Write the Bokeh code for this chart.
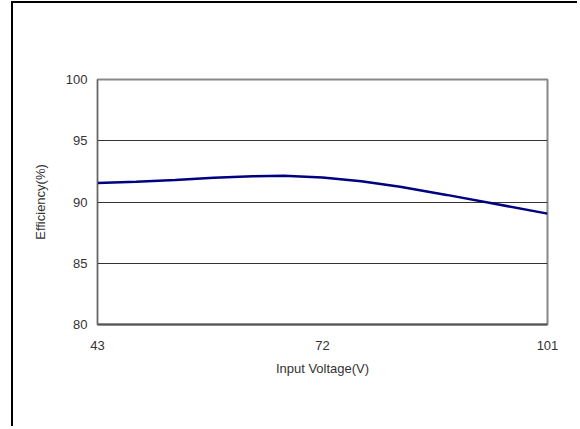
from bokeh.plotting import figure
from bokeh.models import FixedTicker, Range1d
from bokeh.embed import file_html
from bokeh.resources import INLINE

# Data
voltage = [43, 48, 53, 58, 63, 67, 72, 77, 82, 88, 94, 101]
efficiency = [91.55, 91.65, 91.8, 91.98, 92.1, 92.15, 92.0, 91.7, 91.25, 90.58, 89.88, 89.05]
x_ticks = [43, 72, 101]
y_ticks = [80, 85, 90, 95, 100]

FONT = "Liberation Sans"
TXT = "#333333"

p = figure(width=566, height=425, output_backend="svg", toolbar_location=None,
           x_range=Range1d(43, 101), y_range=Range1d(80, 100),
           min_border_left=84, min_border_right=32, min_border_top=76, min_border_bottom=104)
p.styles = {"position": "relative", "top": "1px", "left": "11px",
            "border-left": "2px solid black", "border-top": "2px solid black"}

p.line(voltage, efficiency, line_color="#000080", line_width=2.5)

p.background_fill_color = "white"
p.border_fill_color = "white"
p.outline_line_color = "#888888"
p.outline_line_width = 2

p.xgrid.grid_line_color = None
p.ygrid.grid_line_color = "#333333"
p.ygrid.grid_line_width = 1

p.xaxis.ticker = FixedTicker(ticks=x_ticks)
p.yaxis.ticker = FixedTicker(ticks=y_ticks)
for ax in (p.xaxis, p.yaxis):
    ax.major_tick_out = 0
    ax.major_tick_in = 0
    ax.minor_tick_out = 0
    ax.minor_tick_in = 0
    ax.major_label_text_font = FONT
    ax.major_label_text_font_size = "13px"
    ax.major_label_text_color = TXT
    ax.axis_label_text_font = FONT
    ax.axis_label_text_font_size = "13px"
    ax.axis_label_text_font_style = "normal"
    ax.axis_label_text_color = TXT

p.xaxis.axis_line_color = "#555555"
p.xaxis.axis_line_width = 2
p.yaxis.axis_line_color = "#666666"
p.yaxis.axis_line_width = 1

p.xaxis.axis_label = "Input Voltage(V)"
p.yaxis.axis_label = "Efficiency(%)"
p.xaxis.major_label_standoff = 16
p.xaxis.axis_label_standoff = 8
p.yaxis.major_label_standoff = 10
p.yaxis.axis_label_standoff = 15

open("out.html", "w").write(file_html(p, INLINE))
